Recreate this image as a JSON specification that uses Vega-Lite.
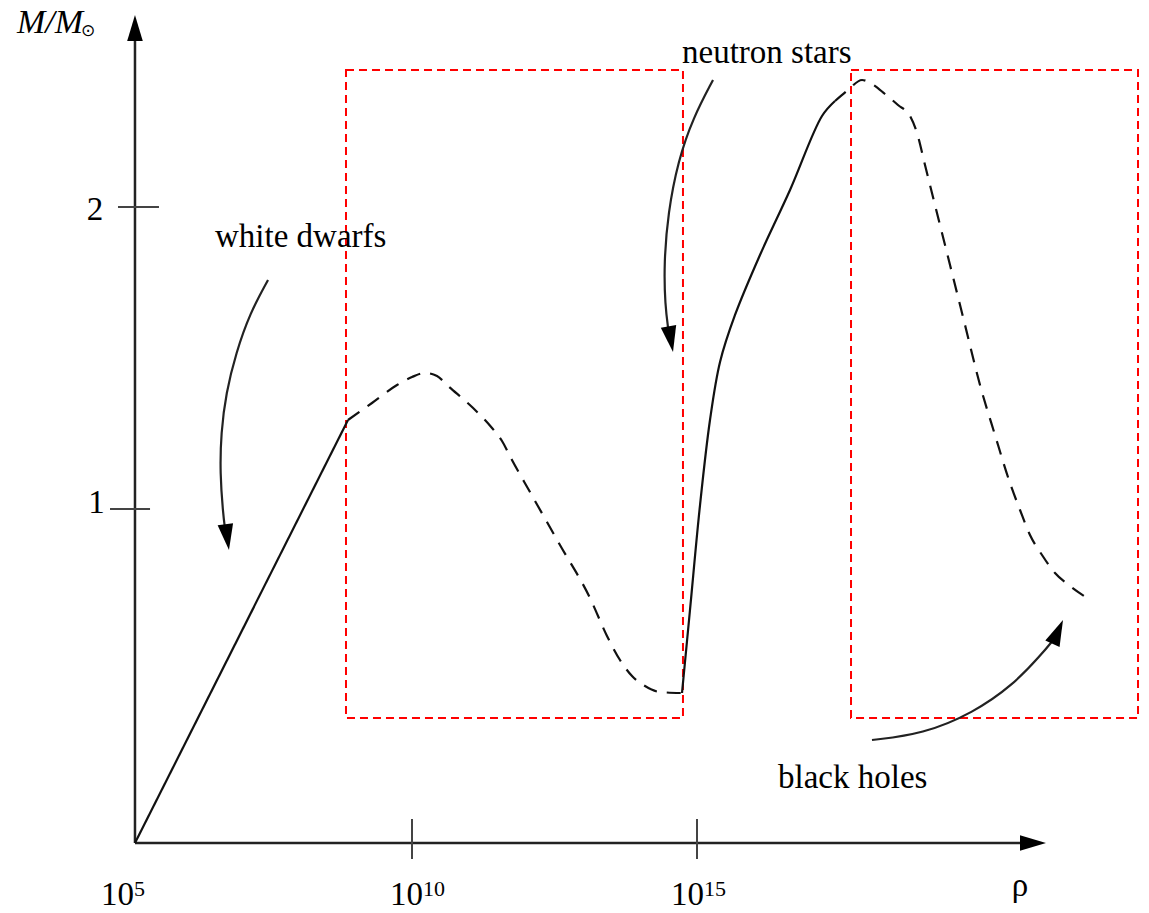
{
  "$schema": "https://vega.github.io/schema/vega-lite/v6.json",
  "width": 1149,
  "height": 913,
  "padding": 0,
  "autosize": {"type": "none"},
  "background": "white",
  "config": {"view": {"stroke": null}},
  "datasets": {
    "rects": [
      {"x1": 8.842, "x2": 14.754, "y1": 2.4536, "y2": 0.3079},
      {"x1": 17.702, "x2": 22.737, "y1": 2.4536, "y2": 0.3079}
    ],
    "axes": [
      {"x1": 5.140, "x2": 20.842, "y1": -0.106, "y2": -0.106},
      {"x1": 5.140, "x2": 5.140, "y1": -0.106, "y2": 2.5497}
    ],
    "ticks": [
      {"x1": 10, "x2": 10, "y1": -0.0265, "y2": -0.159},
      {"x1": 15, "x2": 15, "y1": -0.0265, "y2": -0.159},
      {"x1": 4.842, "x2": 5.561, "y1": 2, "y2": 2},
      {"x1": 4.702, "x2": 5.404, "y1": 1, "y2": 1}
    ],
    "heads": [
      {"lr": 5.140, "m": 2.6358, "ang": 0},
      {"lr": 21.123, "m": -0.106, "ang": 90},
      {"lr": 6.789, "m": 0.8642, "ang": 172},
      {"lr": 14.579, "m": 1.5199, "ang": 170},
      {"lr": 21.421, "m": 0.6325, "ang": 24}
    ],
    "arrows": [
      {"a": "wd", "i": 0, "lr": 7.474, "m": 1.7583},
      {"a": "wd", "i": 1, "lr": 7.158, "m": 1.6490},
      {"a": "wd", "i": 2, "lr": 6.912, "m": 1.5166},
      {"a": "wd", "i": 3, "lr": 6.737, "m": 1.3841},
      {"a": "wd", "i": 4, "lr": 6.649, "m": 1.2517},
      {"a": "wd", "i": 5, "lr": 6.632, "m": 1.1192},
      {"a": "wd", "i": 6, "lr": 6.684, "m": 0.9867},
      {"a": "wd", "i": 7, "lr": 6.722, "m": 0.9305},
      {"a": "ns", "i": 0, "lr": 15.281, "m": 2.4205},
      {"a": "ns", "i": 1, "lr": 14.930, "m": 2.2947},
      {"a": "ns", "i": 2, "lr": 14.667, "m": 2.1523},
      {"a": "ns", "i": 3, "lr": 14.491, "m": 1.9801},
      {"a": "ns", "i": 4, "lr": 14.421, "m": 1.8146},
      {"a": "ns", "i": 5, "lr": 14.439, "m": 1.6755},
      {"a": "ns", "i": 6, "lr": 14.500, "m": 1.5894},
      {"a": "bh", "i": 0, "lr": 18.070, "m": 0.2351},
      {"a": "bh", "i": 1, "lr": 18.965, "m": 0.2550},
      {"a": "bh", "i": 2, "lr": 19.842, "m": 0.3245},
      {"a": "bh", "i": 3, "lr": 20.544, "m": 0.4172},
      {"a": "bh", "i": 4, "lr": 21.035, "m": 0.5166},
      {"a": "bh", "i": 5, "lr": 21.263, "m": 0.5695}
    ],
    "curve": [
      {"seg": "s1", "style": "solid", "i": 0, "lr": 5.140, "m": -0.106},
      {"seg": "s1", "style": "solid", "i": 1, "lr": 8.877, "m": 1.2947},
      {"seg": "d1", "style": "dashed", "i": 0, "lr": 8.877, "m": 1.2947},
      {"seg": "d1", "style": "dashed", "i": 1, "lr": 9.298, "m": 1.3510},
      {"seg": "d1", "style": "dashed", "i": 2, "lr": 9.737, "m": 1.4106},
      {"seg": "d1", "style": "dashed", "i": 3, "lr": 10.000, "m": 1.4371},
      {"seg": "d1", "style": "dashed", "i": 4, "lr": 10.228, "m": 1.4503},
      {"seg": "d1", "style": "dashed", "i": 5, "lr": 10.439, "m": 1.4404},
      {"seg": "d1", "style": "dashed", "i": 6, "lr": 10.632, "m": 1.4073},
      {"seg": "d1", "style": "dashed", "i": 7, "lr": 11.053, "m": 1.3377},
      {"seg": "d1", "style": "dashed", "i": 8, "lr": 11.404, "m": 1.2682},
      {"seg": "d1", "style": "dashed", "i": 9, "lr": 11.579, "m": 1.2252},
      {"seg": "d1", "style": "dashed", "i": 10, "lr": 11.754, "m": 1.1623},
      {"seg": "d1", "style": "dashed", "i": 11, "lr": 12.070, "m": 1.0563},
      {"seg": "d1", "style": "dashed", "i": 12, "lr": 12.596, "m": 0.8808},
      {"seg": "d1", "style": "dashed", "i": 13, "lr": 13.123, "m": 0.7053},
      {"seg": "d1", "style": "dashed", "i": 14, "lr": 13.421, "m": 0.5795},
      {"seg": "d1", "style": "dashed", "i": 15, "lr": 13.649, "m": 0.5000},
      {"seg": "d1", "style": "dashed", "i": 16, "lr": 13.860, "m": 0.4470},
      {"seg": "d1", "style": "dashed", "i": 17, "lr": 14.088, "m": 0.4139},
      {"seg": "d1", "style": "dashed", "i": 18, "lr": 14.351, "m": 0.3940},
      {"seg": "d1", "style": "dashed", "i": 19, "lr": 14.737, "m": 0.3907},
      {"seg": "s2", "style": "solid", "i": 0, "lr": 14.737, "m": 0.3907},
      {"seg": "s2", "style": "solid", "i": 1, "lr": 14.877, "m": 0.6656},
      {"seg": "s2", "style": "solid", "i": 2, "lr": 15.053, "m": 1.0132},
      {"seg": "s2", "style": "solid", "i": 3, "lr": 15.228, "m": 1.2947},
      {"seg": "s2", "style": "solid", "i": 4, "lr": 15.404, "m": 1.4868},
      {"seg": "s2", "style": "solid", "i": 5, "lr": 15.667, "m": 1.6424},
      {"seg": "s2", "style": "solid", "i": 6, "lr": 16.105, "m": 1.8411},
      {"seg": "s2", "style": "solid", "i": 7, "lr": 16.632, "m": 2.0563},
      {"seg": "s2", "style": "solid", "i": 8, "lr": 17.193, "m": 2.3013},
      {"seg": "s2", "style": "solid", "i": 9, "lr": 17.421, "m": 2.3510},
      {"seg": "d2", "style": "dashed", "i": 0, "lr": 17.421, "m": 2.3510},
      {"seg": "d2", "style": "dashed", "i": 1, "lr": 17.649, "m": 2.3874},
      {"seg": "d2", "style": "dashed", "i": 2, "lr": 17.895, "m": 2.4205},
      {"seg": "d2", "style": "dashed", "i": 3, "lr": 18.070, "m": 2.4073},
      {"seg": "d2", "style": "dashed", "i": 4, "lr": 18.298, "m": 2.3742},
      {"seg": "d2", "style": "dashed", "i": 5, "lr": 18.526, "m": 2.3377},
      {"seg": "d2", "style": "dashed", "i": 6, "lr": 18.737, "m": 2.3013},
      {"seg": "d2", "style": "dashed", "i": 7, "lr": 18.860, "m": 2.2450},
      {"seg": "d2", "style": "dashed", "i": 8, "lr": 19.000, "m": 2.1391},
      {"seg": "d2", "style": "dashed", "i": 9, "lr": 19.175, "m": 2.0066},
      {"seg": "d2", "style": "dashed", "i": 10, "lr": 19.439, "m": 1.8079},
      {"seg": "d2", "style": "dashed", "i": 11, "lr": 19.702, "m": 1.6093},
      {"seg": "d2", "style": "dashed", "i": 12, "lr": 19.965, "m": 1.4106},
      {"seg": "d2", "style": "dashed", "i": 13, "lr": 20.228, "m": 1.2450},
      {"seg": "d2", "style": "dashed", "i": 14, "lr": 20.491, "m": 1.0861},
      {"seg": "d2", "style": "dashed", "i": 15, "lr": 20.667, "m": 0.9967},
      {"seg": "d2", "style": "dashed", "i": 16, "lr": 20.842, "m": 0.9139},
      {"seg": "d2", "style": "dashed", "i": 17, "lr": 21.053, "m": 0.8477},
      {"seg": "d2", "style": "dashed", "i": 18, "lr": 21.281, "m": 0.7881},
      {"seg": "d2", "style": "dashed", "i": 19, "lr": 21.544, "m": 0.7450},
      {"seg": "d2", "style": "dashed", "i": 20, "lr": 21.842, "m": 0.7053}
    ],
    "leftText": [
      {"t": "white dwarfs", "lr": 6.544, "m": 1.8675},
      {"t": "neutron stars", "lr": 14.737, "m": 2.4768},
      {"t": "black holes", "lr": 16.421, "m": 0.0762},
      {"t": "10", "lr": 4.544, "m": -0.3113},
      {"t": "10", "lr": 9.614, "m": -0.3113},
      {"t": "10", "lr": 14.544, "m": -0.3113}
    ],
    "expText": [
      {"t": "5", "lr": 5.123, "m": -0.2815},
      {"t": "10", "lr": 10.193, "m": -0.2815},
      {"t": "15", "lr": 15.123, "m": -0.2815}
    ],
    "centerText": [
      {"t": "2", "lr": 4.439, "m": 1.957},
      {"t": "1", "lr": 4.465, "m": 0.9868},
      {"t": "ρ", "lr": 20.667, "m": -0.2815}
    ],
    "ylabel": [
      {"t": "M/M", "lr": 3.070, "m": 2.5762}
    ],
    "sun": [
      {"t": "⊙", "lr": 4.316, "m": 2.5828}
    ]
  },
  "layer": [
    {
      "data": {"name": "rects"},
      "mark": {"type": "rect", "filled": false, "stroke": "#ff0000", "strokeWidth": 2, "strokeDash": [8, 5]},
      "encoding": {
        "x": {"field": "x1", "type": "quantitative", "scale": {"domain": [2.7719, 22.9298], "nice": false, "zero": false}, "axis": null},
        "x2": {"field": "x2"},
        "y": {"field": "y1", "type": "quantitative", "scale": {"domain": [-0.3377, 2.6854], "nice": false, "zero": false}, "axis": null},
        "y2": {"field": "y2"}
      }
    },
    {
      "data": {"name": "axes"},
      "mark": {"type": "rule", "color": "#222", "strokeWidth": 2.5},
      "encoding": {
        "x": {"field": "x1", "type": "quantitative", "axis": null},
        "x2": {"field": "x2"},
        "y": {"field": "y1", "type": "quantitative", "axis": null},
        "y2": {"field": "y2"}
      }
    },
    {
      "data": {"name": "ticks"},
      "mark": {"type": "rule", "color": "#444", "strokeWidth": 2},
      "encoding": {
        "x": {"field": "x1", "type": "quantitative", "axis": null},
        "x2": {"field": "x2"},
        "y": {"field": "y1", "type": "quantitative", "axis": null},
        "y2": {"field": "y2"}
      }
    },
    {
      "data": {"name": "arrows"},
      "mark": {"type": "line", "interpolate": "basis", "color": "#222", "strokeWidth": 2.2},
      "encoding": {
        "x": {"field": "lr", "type": "quantitative", "axis": null},
        "y": {"field": "m", "type": "quantitative", "axis": null},
        "detail": {"field": "a"},
        "order": {"field": "i", "type": "quantitative"}
      }
    },
    {
      "data": {"name": "curve"},
      "transform": [{"filter": "datum.style === 'solid'"}],
      "mark": {"type": "line", "interpolate": "catmull-rom", "color": "#111", "strokeWidth": 2.2},
      "encoding": {
        "x": {"field": "lr", "type": "quantitative", "axis": null},
        "y": {"field": "m", "type": "quantitative", "axis": null},
        "detail": {"field": "seg"},
        "order": {"field": "i", "type": "quantitative"}
      }
    },
    {
      "data": {"name": "curve"},
      "transform": [{"filter": "datum.style === 'dashed'"}],
      "mark": {"type": "line", "interpolate": "monotone", "color": "#111", "strokeWidth": 2.2, "strokeDash": [14, 10]},
      "encoding": {
        "x": {"field": "lr", "type": "quantitative", "axis": null},
        "y": {"field": "m", "type": "quantitative", "axis": null},
        "detail": {"field": "seg"},
        "order": {"field": "i", "type": "quantitative"}
      }
    },
    {
      "data": {"name": "heads"},
      "mark": {"type": "point", "shape": "M0,0L0.3,1L-0.3,1Z", "filled": true, "size": 2704, "color": "#000", "opacity": 1, "strokeWidth": 0},
      "encoding": {
        "x": {"field": "lr", "type": "quantitative", "axis": null},
        "y": {"field": "m", "type": "quantitative", "axis": null},
        "angle": {"field": "ang", "type": "quantitative", "scale": null}
      }
    },
    {
      "data": {"name": "leftText"},
      "mark": {"type": "text", "font": "Liberation Serif", "fontSize": 33, "align": "left", "baseline": "alphabetic", "color": "#000"},
      "encoding": {
        "x": {"field": "lr", "type": "quantitative", "axis": null},
        "y": {"field": "m", "type": "quantitative", "axis": null},
        "text": {"field": "t"}
      }
    },
    {
      "data": {"name": "expText"},
      "mark": {"type": "text", "font": "Liberation Serif", "fontSize": 22, "align": "left", "baseline": "alphabetic", "color": "#000"},
      "encoding": {
        "x": {"field": "lr", "type": "quantitative", "axis": null},
        "y": {"field": "m", "type": "quantitative", "axis": null},
        "text": {"field": "t"}
      }
    },
    {
      "data": {"name": "centerText"},
      "mark": {"type": "text", "font": "Liberation Serif", "fontSize": 33, "align": "center", "baseline": "alphabetic", "color": "#000"},
      "encoding": {
        "x": {"field": "lr", "type": "quantitative", "axis": null},
        "y": {"field": "m", "type": "quantitative", "axis": null},
        "text": {"field": "t"}
      }
    },
    {
      "data": {"name": "ylabel"},
      "mark": {"type": "text", "font": "Liberation Serif", "fontSize": 34, "fontStyle": "italic", "align": "left", "baseline": "alphabetic", "color": "#000"},
      "encoding": {
        "x": {"field": "lr", "type": "quantitative", "axis": null},
        "y": {"field": "m", "type": "quantitative", "axis": null},
        "text": {"field": "t"}
      }
    },
    {
      "data": {"name": "sun"},
      "mark": {"type": "text", "font": "DejaVu Sans", "fontSize": 17, "align": "center", "baseline": "middle", "color": "#000"},
      "encoding": {
        "x": {"field": "lr", "type": "quantitative", "axis": null},
        "y": {"field": "m", "type": "quantitative", "axis": null},
        "text": {"field": "t"}
      }
    }
  ]
}
